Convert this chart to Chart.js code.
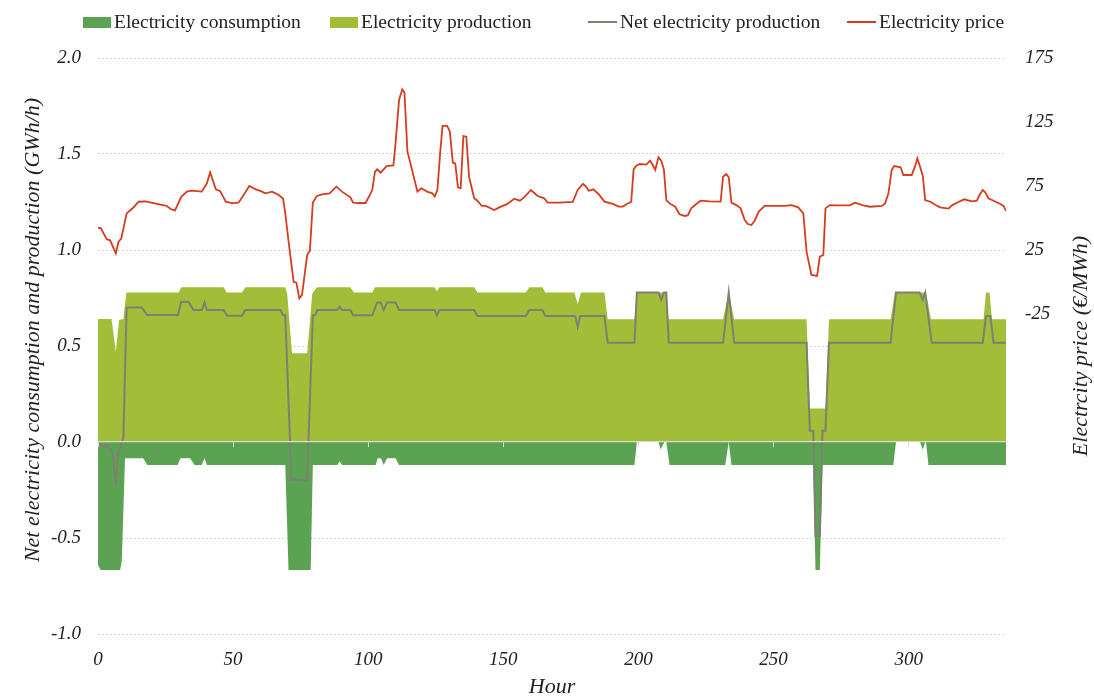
<!DOCTYPE html>
<html>
<head>
<meta charset="utf-8">
<script src="https://cdn.jsdelivr.net/npm/chart.js@4.4.1/dist/chart.umd.min.js"></script>
<style>
  body { margin: 0; background: #fff; }
  #wrap { position: relative; width: 1094px; height: 700px; }
  .legend-item {
    position: absolute;
    top: 11px;
    height: 22px;
    display: flex;
    align-items: center;
    font: 19.5px "Liberation Serif", serif;
    color: #222;
    white-space: nowrap;
  }
  .swatch-box { width: 28px; height: 11px; margin-right: 3px; }
  .swatch-line { width: 29px; height: 2px; margin-right: 3px; }
</style>
</head>
<body>
<div id="wrap">
  <div class="legend-item" style="left:83px"><span class="swatch-box" style="background:#5ba352"></span>Electricity consumption</div>
  <div class="legend-item" style="left:330px"><span class="swatch-box" style="background:#a2be38"></span>Electricity production</div>
  <div class="legend-item" style="left:588px"><span class="swatch-line" style="background:#7f7f72"></span>Net electricity production</div>
  <div class="legend-item" style="left:847px"><span class="swatch-line" style="background:#d43d1f"></span>Electricity price</div>
  <canvas id="chart"></canvas>
</div>
<script>
// hour / value breakpoints
const productionHours = [0, 5, 6.6, 7.8, 9.4, 10.5, 29.8, 30.8, 46.5, 47.6, 53.3, 54.5, 69.3, 70, 71.8, 77.4, 79.3, 81, 93.4, 94.7, 101.5, 102.5, 124.6, 125.4, 126.3, 139.2, 140.4, 158.3, 159.6, 164.5, 165.5, 176.3, 177.5, 178.7, 187.4, 188.6, 198.5, 199.4, 210.3, 211.1, 231.3, 233.4, 235.4, 262.2, 263.4, 269.2, 270.5, 293.3, 294.9, 306.4, 308.2, 327.7, 328.6, 329.9, 330.8, 336];
const productionValues = [0.64, 0.64, 0.47, 0.635, 0.64, 0.778, 0.778, 0.806, 0.806, 0.778, 0.778, 0.806, 0.806, 0.774, 0.462, 0.462, 0.774, 0.806, 0.806, 0.778, 0.778, 0.806, 0.806, 0.785, 0.806, 0.806, 0.778, 0.778, 0.806, 0.806, 0.778, 0.778, 0.719, 0.778, 0.778, 0.639, 0.639, 0.778, 0.778, 0.639, 0.639, 0.778, 0.639, 0.639, 0.175, 0.175, 0.639, 0.639, 0.778, 0.778, 0.639, 0.639, 0.778, 0.778, 0.639, 0.639];

const consumptionHours = [0, 1, 8.2, 8.8, 10, 16.7, 18.3, 29.5, 30.5, 34.1, 35.7, 38.4, 39.4, 40.3, 69.3, 70.5, 78.7, 79.5, 88.5, 89.5, 90.3, 102.7, 103.5, 104.7, 105.7, 107, 110.1, 111.4, 198.5, 199.4, 207.4, 208.2, 209.6, 210.3, 211.5, 232.1, 233.4, 234.4, 264.7, 265.5, 267.1, 268.1, 294.3, 295.3, 304.2, 305.2, 306.1, 306.4, 307.3, 336];
const consumptionValues = [-0.64, -0.667, -0.667, -0.62, -0.085, -0.085, -0.12, -0.12, -0.085, -0.085, -0.12, -0.12, -0.085, -0.12, -0.12, -0.667, -0.667, -0.12, -0.12, -0.1, -0.12, -0.12, -0.085, -0.085, -0.12, -0.085, -0.085, -0.12, -0.12, 0, 0, -0.038, 0, 0, -0.12, -0.12, 0, -0.12, -0.12, -0.667, -0.667, -0.12, -0.12, 0, 0, -0.04, 0, 0, -0.12, -0.12];

const netHours = [0, 1.5, 3.9, 5.3, 6.6, 7.6, 8.8, 9.4, 10.6, 16.2, 18.2, 29.6, 30.8, 33.5, 35.3, 38.4, 39.4, 40.3, 46.5, 47.8, 53.3, 54.5, 67.5, 68.5, 69.3, 71.6, 77.4, 79.5, 80.3, 81.2, 88.5, 89.5, 90.3, 93.4, 94.4, 101.5, 103.3, 104.6, 105.7, 107, 110.1, 111.4, 124.6, 125.4, 126.4, 139.2, 140.4, 158.3, 159.6, 164.5, 165.5, 176.6, 177.5, 178.4, 187.4, 188.6, 198.5, 199.4, 207.4, 208.4, 209.4, 210.3, 211.2, 231.3, 233.4, 235.4, 262.2, 263.4, 264.7, 265.5, 267.1, 268.1, 269.2, 270.5, 293.3, 295.3, 304, 305.2, 306.1, 308.5, 327.4, 328.6, 330.2, 331.4, 336];
const netValues = [-0.005, -0.024, -0.024, -0.05, -0.207, -0.05, -0.01, 0.028, 0.7, 0.7, 0.661, 0.661, 0.731, 0.731, 0.6875, 0.6875, 0.726, 0.6875, 0.6875, 0.658, 0.658, 0.6875, 0.6875, 0.66, 0.66, -0.198, -0.198, 0.66, 0.66, 0.6875, 0.6875, 0.705, 0.6875, 0.6875, 0.66, 0.66, 0.727, 0.727, 0.6875, 0.727, 0.727, 0.6875, 0.6875, 0.66, 0.6875, 0.6875, 0.656, 0.656, 0.6875, 0.6875, 0.656, 0.656, 0.6, 0.656, 0.656, 0.517, 0.517, 0.778, 0.778, 0.74, 0.778, 0.778, 0.517, 0.517, 0.778, 0.517, 0.517, 0.059, 0.059, -0.49, -0.49, 0.059, 0.059, 0.517, 0.517, 0.778, 0.778, 0.74, 0.778, 0.517, 0.517, 0.656, 0.656, 0.517, 0.517];

const priceHours = [0, 1.1, 3.2, 4.5, 6.6, 7.6, 8.6, 10.6, 13, 15, 17.5, 23.6, 25.5, 27, 28.5, 30.8, 32.9, 34.7, 38.4, 40.3, 41.5, 43.6, 45.2, 47.3, 49.5, 52, 54.3, 56, 58.2, 60.7, 61.9, 64.4, 66.9, 68.5, 69.3, 70.9, 72.4, 73.4, 74.5, 75.5, 77.4, 78.4, 79.5, 81, 82.9, 85.7, 88.2, 90.3, 93.4, 94.4, 96.5, 99, 100.6, 101.5, 102.5, 103.3, 104.6, 106.8, 109.3, 110.1, 111.4, 112.6, 113.4, 114.5, 115.8, 118.2, 119.6, 121.8, 123.7, 124.6, 125.6, 126.6, 127.5, 129.2, 130.2, 131.3, 132.2, 133.2, 134.2, 135.2, 136.3, 137.3, 139.2, 140.4, 142, 143.5, 146.6, 148.5, 151.5, 154, 156.1, 157.7, 160.2, 162.7, 165.1, 166.4, 170.7, 175.7, 177.5, 179.4, 180.4, 181.6, 183.3, 185.5, 187.4, 190.5, 192.7, 194.2, 195.7, 197.3, 198.2, 199.1, 200.4, 202.9, 204.3, 205.3, 206.2, 207.4, 208.4, 209.4, 210.3, 211.5, 213.6, 215.2, 217.1, 218.3, 219.5, 221.4, 223, 226.3, 230.4, 231.3, 232.5, 233.4, 234.4, 236.2, 237.8, 239.3, 240.5, 241.8, 243, 244.5, 246.7, 254.1, 256.6, 259.1, 261, 262.2, 264, 266.1, 267.1, 268.4, 269.2, 270.8, 273.3, 278.2, 280.1, 283.2, 285.7, 290, 291.2, 292.5, 293.7, 294.6, 297, 298, 301.1, 302.3, 303.2, 304.2, 305.2, 306.1, 308.2, 309.8, 311.6, 314.7, 316, 318.4, 320.5, 323.4, 325.2, 326.2, 327.4, 328.3, 329.5, 331.4, 333.9, 335.1, 336];
const priceValues = [42.4, 42, 33.4, 32.6, 22.4, 31.5, 33.9, 53.6, 58, 62.7, 63, 60.2, 59.4, 56.8, 56, 66.6, 70.6, 71.4, 70.6, 77.1, 85.7, 72.4, 71, 62.7, 61.7, 62, 69.3, 75, 72.6, 70.6, 69.3, 70.6, 68, 65, 53.7, 25, 0.2, -0.5, -12.8, -10, 21, 24.5, 62, 67.2, 68.5, 69.3, 74.5, 70.6, 66.2, 62, 61.7, 61.7, 68, 72, 86.2, 88, 85.4, 90.6, 91.1, 108.3, 142.2, 150.5, 148, 101.8, 91.1, 70.6, 73.2, 70.6, 69.3, 66.7, 72, 100.5, 121.9, 122, 117.4, 93.2, 92.7, 74, 73.2, 114, 113.5, 82.3, 65.4, 63.5, 59.4, 59.4, 56.2, 58.3, 61, 65.1, 63.5, 66.1, 71.9, 67.2, 65.4, 62, 62, 62.5, 71.9, 76.6, 75, 71.3, 72.4, 68, 62.8, 61, 58.9, 58.9, 61, 62.5, 88, 90.6, 92.2, 91.7, 94.8, 91.4, 87.5, 97.4, 94.8, 88, 64, 61.4, 58.8, 52.9, 51.6, 52.2, 57.5, 60.9, 63.5, 63, 62.8, 82.3, 84.4, 81.8, 62, 60.1, 57.5, 48.4, 45.3, 44.5, 47.9, 55, 59.4, 59.4, 60.1, 58.3, 53.6, 23.7, 5.5, 4.7, 19.8, 21.1, 57.5, 60.1, 59.9, 59.9, 62, 59.9, 58.8, 59.4, 61.2, 69.3, 87.5, 90.6, 89.6, 83.6, 83.6, 90.1, 96.6, 90, 82.8, 64, 62.5, 60.4, 58.3, 57.3, 59.9, 62.5, 64.6, 63, 63.5, 68, 71.9, 70, 65.4, 63.5, 61, 59.4, 55.5];

const hourTicks = [0, 50, 100, 150, 200, 250, 300];
const priceTickLabels = [-25, 25, 75, 125, 175];

const toPoints = (hours, values) => hours.map((h, i) => ({ x: h, y: values[i] }));
const keepHourTicks = (scale) => {
  scale.ticks = scale.ticks.filter((t) => hourTicks.includes(t.value));
};

const textColor = "#222";
const serif = '"Liberation Serif", serif';
Chart.defaults.font.family = serif;
Chart.defaults.color = textColor;

// axis titles are drawn by hand so the right one reads bottom-to-top like the left one
const axisTitles = {
  id: "axisTitles",
  afterDraw(chart) {
    const ctx = chart.ctx;
    const area = chart.chartArea;
    ctx.save();
    ctx.font = `italic 22px ${serif}`;
    ctx.fillStyle = textColor;
    ctx.textAlign = "center";
    ctx.textBaseline = "middle";

    ctx.translate(33, 330);
    ctx.rotate(-Math.PI / 2);
    ctx.fillText("Net electricity consumption and production (GWh/h)", 0, 0);
    ctx.restore();

    ctx.save();
    ctx.font = `italic 22px ${serif}`;
    ctx.fillStyle = textColor;
    ctx.textAlign = "center";
    ctx.textBaseline = "middle";
    ctx.translate(1081, (area.top + area.bottom) / 2);
    ctx.rotate(-Math.PI / 2);
    ctx.fillText("Electrcity price (€/MWh)", 0, 0);
    ctx.restore();
  },
};

new Chart(document.getElementById("chart"), {
  type: "line",
  data: {
    datasets: [
      {
        label: "Electricity consumption",
        data: toPoints(consumptionHours, consumptionValues),
        yAxisID: "y",
        fill: "origin",
        backgroundColor: "#5ba352",
        borderWidth: 0,
        pointRadius: 0,
        order: 3,
      },
      {
        label: "Electricity production",
        data: toPoints(productionHours, productionValues),
        yAxisID: "y",
        fill: "origin",
        backgroundColor: "#a2be38",
        borderWidth: 0,
        pointRadius: 0,
        order: 4,
      },
      {
        label: "Net electricity production",
        data: toPoints(netHours, netValues),
        yAxisID: "y",
        fill: false,
        borderColor: "#7f7f72",
        borderWidth: 2,
        pointRadius: 0,
        order: 0,
      },
      {
        label: "Electricity price",
        data: toPoints(priceHours, priceValues),
        yAxisID: "y1",
        fill: false,
        borderColor: "#d43d1f",
        borderWidth: 1.8,
        pointRadius: 0,
        order: 1,
      },
    ],
  },
  options: {
    responsive: true,
    maintainAspectRatio: false,
    animation: false,
    layout: { padding: { top: 58, left: 0, right: 0, bottom: 0 } },
    plugins: {
      legend: { display: false },
      tooltip: { enabled: false },
    },
    scales: {
      x: {
        type: "linear",
        position: "bottom",
        min: 0,
        max: 336,
        grid: { display: false, drawTicks: false },
        border: { display: false },
        ticks: {
          stepSize: 50,
          padding: 15,
          maxRotation: 0,
          autoSkip: false,
          font: { size: 19, style: "italic" },
        },
        afterBuildTicks: keepHourTicks,
        title: {
          display: true,
          text: "Hour",
          font: { size: 22, style: "italic" },
          padding: { top: 0, bottom: 0 },
        },
        afterFit(scale) {
          scale.height = 66;
        },
      },
      xZero: {
        type: "linear",
        position: { y: 0 },
        min: 0,
        max: 336,
        ticks: { display: false, stepSize: 50 },
        afterBuildTicks: keepHourTicks,
        grid: {
          drawOnChartArea: false,
          drawTicks: true,
          tickLength: 5,
          tickColor: "#d9d9d9",
          z: 1,
        },
        border: { display: true, color: "#dcdcdc", width: 1.2, z: 1 },
      },
      y: {
        type: "linear",
        position: "left",
        min: -1,
        max: 2,
        ticks: {
          stepSize: 0.5,
          padding: 17,
          font: { size: 19, style: "italic" },
          callback: (v) => v.toFixed(1),
        },
        grid: {
          drawTicks: false,
          color: (c) => (c.tick && c.tick.value === 0 ? "rgba(0,0,0,0)" : "#d4d4d4"),
        },
        border: { display: false, dash: [2, 2] },
        afterFit(scale) {
          scale.width = 98;
        },
      },
      y1: {
        type: "linear",
        position: "right",
        min: -275,
        max: 175,
        ticks: {
          stepSize: 50,
          padding: 19,
          font: { size: 19, style: "italic" },
          callback: (v) => (priceTickLabels.includes(v) ? String(v) : ""),
        },
        grid: { drawOnChartArea: false, drawTicks: false },
        border: { display: false },
        afterFit(scale) {
          scale.width = 88;
        },
      },
    },
  },
  plugins: [axisTitles],
});
</script>
</body>
</html>
